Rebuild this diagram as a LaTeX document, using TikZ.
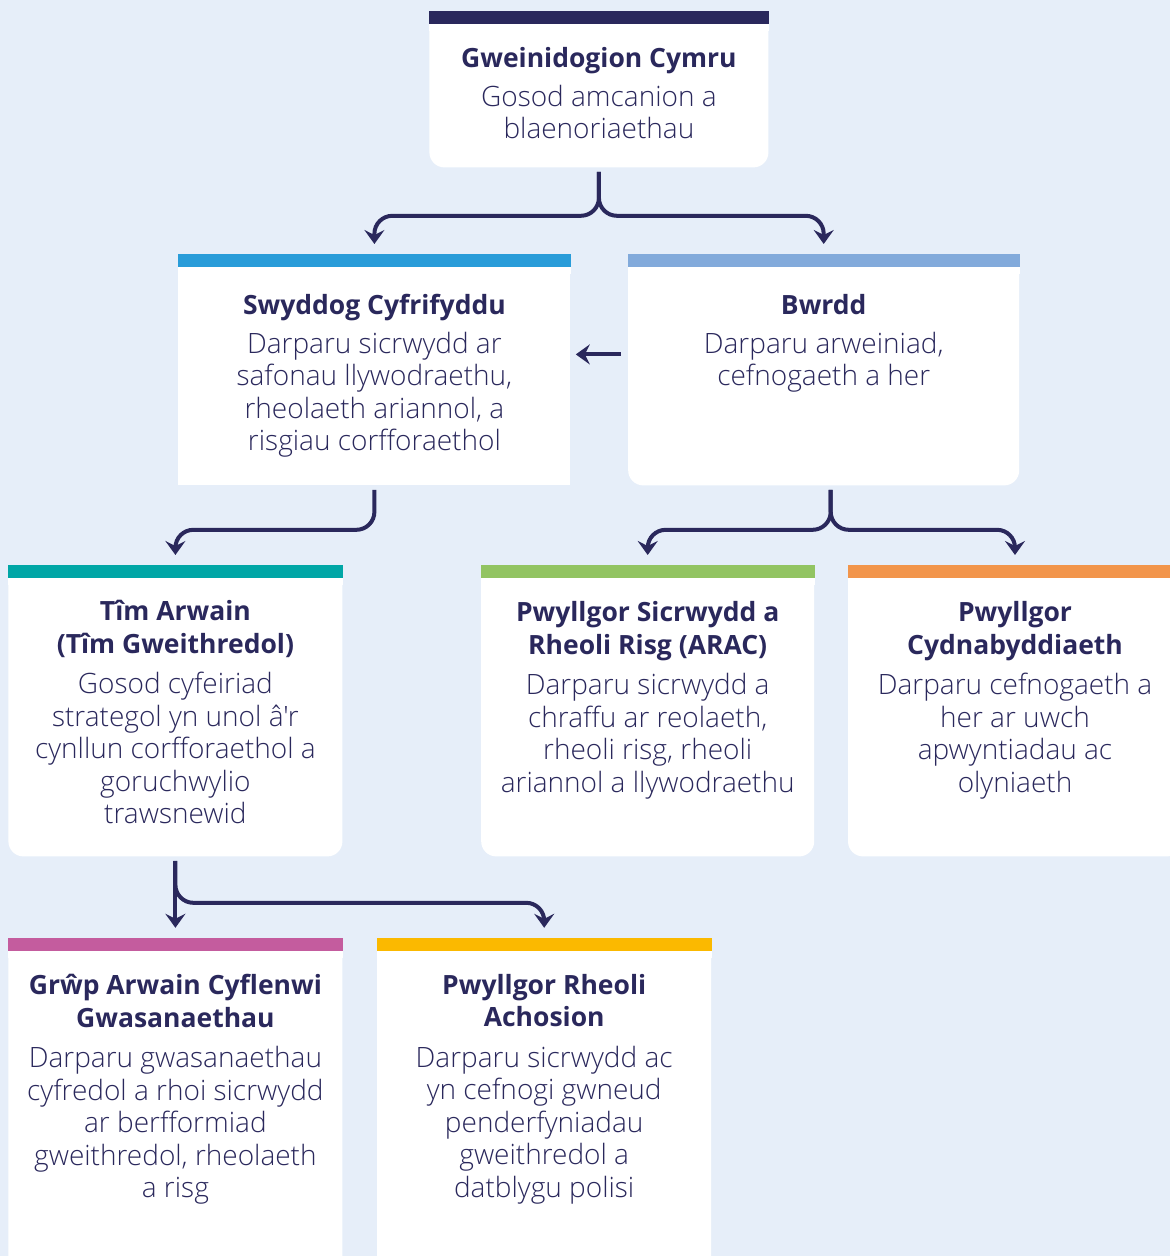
\documentclass[tikz,border=0pt]{standalone}
\usepackage{fontspec}
\setmainfont{Open Sans}
\newfontfamily\lightfont{Open Sans Light}
\usetikzlibrary{arrows.meta,positioning}
\definecolor{wgnavy}{HTML}{2A285C}
\definecolor{wgback}{HTML}{E6EEF9}
\definecolor{barblue}{HTML}{299CD9}
\definecolor{barsky}{HTML}{82AADB}
\definecolor{barteal}{HTML}{00A6A6}
\definecolor{bargreen}{HTML}{92C462}
\definecolor{barorange}{HTML}{F2954B}
\definecolor{barpink}{HTML}{C45C9E}
\definecolor{baryellow}{HTML}{FBB900}
\tikzset{
	%Define standard arrow tip
	>={Stealth[length=7pt,width=10pt,inset=2.5pt]},
	%Define style for cards
	card/.style={
		rectangle,
		rounded corners=7.5pt,
		fill=white,
		inner sep=0pt,
		anchor=north west},
	%Define style for card texts
	txt/.style={
		align=center,
		inner sep=0pt,
		text=wgnavy,
		font=\lightfont\fontsize{14}{16.25}\selectfont},
	% Define arrow style
	pil/.style={
		->,
		draw=wgnavy,
		line width=2pt,
		rounded corners=9pt,
		shorten <=2pt,
		shorten >=5pt,}
}
\newcommand{\ttl}[1]{{\normalfont\fontsize{13.25}{16.25}\selectfont\bfseries #1}}
\begin{document}
\begin{tikzpicture}[x=0.5pt, y=-0.5pt]
	
	\useasboundingbox (0,0) rectangle (1170,1256);
	\clip (0,0) rectangle (1170,1256);
	\fill[wgback] (0,0) rectangle (1170,1256);
	
	% cards
	\node[card, minimum width=169.5pt, minimum height=78pt] (gw) at (429,11) {};
	\node[card, sharp corners, minimum width=196pt, minimum height=115.5pt] (swy) at (178,254) {};
	\node[card, minimum width=195.5pt, minimum height=115.5pt, right=28.5pt of swy] (bwrdd) {};
	\node[card, minimum width=167pt, minimum height=145.5pt] (tim) at (8,565) {};
	\node[card, minimum width=166.5pt, minimum height=145.5pt, right=69pt of tim] (arac) {};
	\node[card, minimum width=167pt, minimum height=145.5pt, right=16.5pt of arac] (cyd) {};
	\node[card, minimum width=167pt, minimum height=170pt, below=40.5pt of tim] (grwp) {};
	\node[card, minimum width=167pt, minimum height=170pt, right=17pt of grwp] (rheoli) {};
	
	% coloured bars on top of the cards
	\foreach \n/\c in {gw/wgnavy, swy/barblue, bwrdd/barsky, tim/barteal,
		arac/bargreen, cyd/barorange, grwp/barpink, rheoli/baryellow} {
		\fill[white] (\n.north west) rectangle ([yshift=-10pt]\n.north east);
		\fill[\c] (\n.north west) rectangle ([yshift=-6.5pt]\n.north east);
	}
	
	% texts
	\node[txt, below=18pt of gw.north] (t1) {\ttl{Gweinidogion Cymru}\\[3pt]
		Gosod amcanion a\\ blaenoriaethau};
	\node[txt, below=20pt of swy.north] (t2) {\ttl{Swyddog Cyfrifyddu}\\[3pt]
		Darparu sicrwydd ar\\ safonau llywodraethu,\\ rheolaeth ariannol, a\\ risgiau corfforaethol};
	\node[txt, below=20pt of bwrdd.north] (t3) {\ttl{Bwrdd}\\[3pt]
		Darparu arweiniad,\\ cefnogaeth a her};
	\node[txt, below=17.5pt of tim.north] (t4) {\ttl{Tîm Arwain}\\ \ttl{(Tîm Gweithredol)}\\[4pt]
		Gosod cyfeiriad\\ strategol yn unol â'r\\ cynllun corfforaethol a\\ goruchwylio\\ trawsnewid};
	\node[txt, below=18pt of arac.north] (t5) {\ttl{Pwyllgor Sicrwydd a}\\ \ttl{Rheoli Risg (ARAC)}\\[4pt]
		Darparu sicrwydd a\\ chraffu ar reolaeth,\\ rheoli risg, rheoli\\ ariannol a llywodraethu};
	\node[txt, below=18pt of cyd.north] (t6) {\ttl{Pwyllgor}\\ \ttl{Cydnabyddiaeth}\\[4pt]
		Darparu cefnogaeth a\\ her ar uwch\\ apwyntiadau ac\\ olyniaeth};
	\node[txt, below=18pt of grwp.north] (t7) {\ttl{Grŵp Arwain Cyflenwi}\\ \ttl{Gwasanaethau}\\[4pt]
		Darparu gwasanaethau\\ cyfredol a rhoi sicrwydd\\ ar berfformiad\\ gweithredol, rheolaeth\\ a risg};
	\node[txt, below=18pt of rheoli.north] (t8) {\ttl{Pwyllgor Rheoli}\\ \ttl{Achosion}\\[4pt]
		Darparu sicrwydd ac\\ yn cefnogi gwneud\\ penderfyniadau\\ gweithredol a\\ datblygu polisi};
	
	% connectors
	\draw[pil] (gw.south) -- ++(0,48) -| (swy.north);
	\draw[pil] (gw.south) -- ++(0,48) -| (bwrdd.north);
	\draw[pil, shorten <=3.5pt, shorten >=2.5pt] ([yshift=7.75pt]bwrdd.west) -- ([yshift=7.75pt]swy.east);
	\draw[pil] (swy.south) -- ++(0,44) -| (tim.north);
	\draw[pil] ([xshift=3.5pt]bwrdd.south) -- ++(0,44) -| (arac.north);
	\draw[pil] ([xshift=3.5pt]bwrdd.south) -- ++(0,44) -| (cyd.north);
	\draw[pil] (tim.south) -- (grwp.north);
	\draw[pil] (tim.south) -- ++(0,46) -| (rheoli.north);
	
\end{tikzpicture}
\end{document}
